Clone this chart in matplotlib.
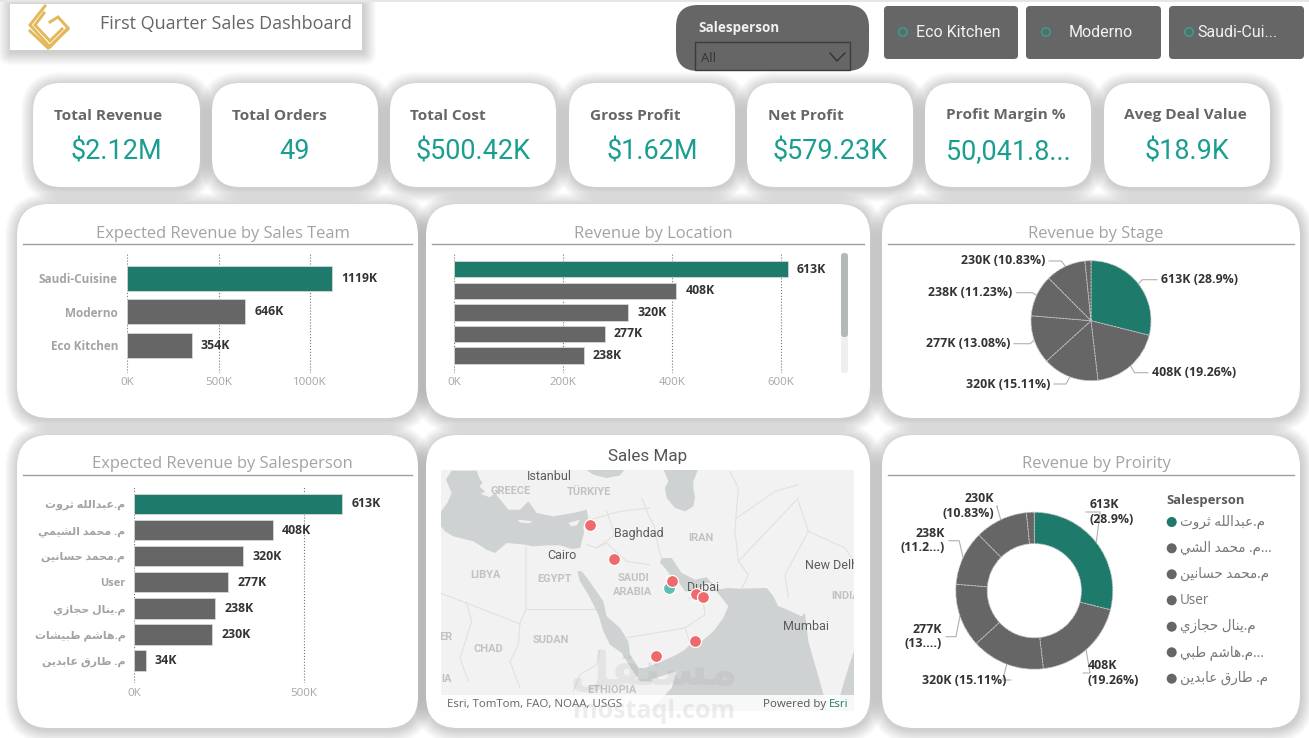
import math
import matplotlib
matplotlib.use("Agg")
import matplotlib.pyplot as plt
from matplotlib.patches import FancyBboxPatch, Polygon, Circle, Rectangle

W, H = 1309, 738
PT = 0.72  # one image pixel in points at dpi 100

UI = ["Open Sans", "DejaVu Sans"]
DIN = ["Roboto", "DejaVu Sans"]
TEAL = "#1e7b6c"
GRAY = "#666666"
VALUE = "#1a9e8f"

# data
kpi_titles = ["Total Revenue", "Total Orders", "Total Cost", "Gross Profit", "Net Profit", "Profit Margin %", "Aveg Deal Value"]
kpi_values = ["$2.12M", "49", "$500.42K", "$1.62M", "$579.23K", "50,041.8...", "$18.9K"]
team_names = ["Saudi-Cuisine", "Moderno", "Eco Kitchen"]
team_values = [1119, 646, 354]
location_values = [613, 408, 320, 277, 238]
sales_names = ["م.عبدالله ثروت", "م. محمد الشيمي", "م.محمد حسانين", "User", "م.ينال حجازي", "م.هاشم طبيشات", "م. طارق عابدين"]
sales_values = [613, 408, 320, 277, 238, 230, 34]
legend_names = ["م.عبدالله ثروت", "م. محمد الشي", "م.محمد حسانين", "User", "م.ينال حجازي", "م.هاشم طبي", "م. طارق عابدين"]
legend_cut = [False, True, False, False, False, True, False]
stage_labels = ["613K (28.9%)", "408K (19.26%)", "320K (15.11%)", "277K (13.08%)", "238K (11.23%)", "230K (10.83%)"]
priority_labels = ["613K\n(28.9%)", "408K\n(19.26%)", "320K (15.11%)", "277K\n(13....)", "238K\n(11.2...)", "230K\n(10.83%)"]
slicer_buttons = ["Eco Kitchen", "Moderno", "Saudi-Cui..."]
red_lons = [36.0, 40.0, 50.0, 54.1, 55.3, 53.9, 47.2]
red_lats = [34.4, 29.6, 26.3, 24.2, 23.8, 16.8, 14.3]
teal_lon = [49.5]
teal_lat = [25.1]


# matplotlib has no arabic shaping, so pick the presentation forms by hand
JOIN_BOTH = {"ب": 0xFE8F, "ت": 0xFE95, "ث": 0xFE99, "ج": 0xFE9D, "ح": 0xFEA1, "س": 0xFEB1, "ش": 0xFEB5,
             "ط": 0xFEC1, "ع": 0xFEC9, "ق": 0xFED5, "ل": 0xFEDD, "م": 0xFEE1, "ن": 0xFEE5, "ه": 0xFEE9, "ي": 0xFEF1}
JOIN_RIGHT = {"ا": 0xFE8D, "د": 0xFEA9, "ر": 0xFEAD, "ز": 0xFEAF, "و": 0xFEED}


def shape(text):
    out = []
    for i, c in enumerate(text):
        if c not in JOIN_BOTH and c not in JOIN_RIGHT:
            out.append(c)
            continue
        before = i > 0 and text[i - 1] in JOIN_BOTH
        after = i + 1 < len(text) and (text[i + 1] in JOIN_BOTH or text[i + 1] in JOIN_RIGHT)
        if c in JOIN_RIGHT:
            out.append(chr(JOIN_RIGHT[c] + (1 if before else 0)))
        else:
            form = {(False, False): 0, (True, False): 1, (False, True): 2, (True, True): 3}[(before, after)]
            out.append(chr(JOIN_BOTH[c] + form))
    if any(c in JOIN_BOTH or c in JOIN_RIGHT for c in text):
        return "".join(reversed(out))
    return text


fig = plt.figure(figsize=(W / 100, H / 100), dpi=100, facecolor="white")


def px_axes(x0, y0, x1, y1, zorder=2):
    ax = fig.add_axes([x0 / W, 1 - y1 / H, (x1 - x0) / W, (y1 - y0) / H], zorder=zorder)
    ax.patch.set_visible(False)
    return ax


base = px_axes(0, 0, W, H, zorder=0)
base.set_xlim(0, W)
base.set_ylim(H, 0)
base.axis("off")


def card(x0, y0, x1, y1, r=26, face="white", shadow=True):
    if shadow:
        # shadows go under every card face
        for i in range(12, 0, -1):
            s = i * 1.1
            base.add_patch(FancyBboxPatch((x0 - s + 1, y0 - s + 2), x1 - x0 + 2 * s, y1 - y0 + 2 * s,
                                          boxstyle="round,pad=0,rounding_size=%f" % (r + s),
                                          fc="black", ec="none", alpha=0.014, zorder=0.5))
    base.add_patch(FancyBboxPatch((x0, y0), x1 - x0, y1 - y0, boxstyle="round,pad=0,rounding_size=%f" % r,
                                  fc=face, ec="none", zorder=1))


def label(x, y, s, px, color=GRAY, weight="normal", ha="left", family=UI, ax=base, **kw):
    return ax.text(x, y, s, fontsize=px * PT, color=color, fontweight=weight, ha=ha, va="center",
                   family=family, **kw)


# header
base.add_patch(Rectangle((0, 0), W, 1.5, fc="#e6e6e6", ec="none"))
card(10, 4, 362, 50, r=0)
logo_lines = [[(45, 6), (30, 25), (50, 47), (68, 28), (58, 17), (50, 22)],
              [(44, 13), (35, 25), (50, 41), (62, 29)],
              [(30, 31), (48, 48), (68, 29)]]
for line in logo_lines:
    base.plot([p[0] for p in line], [p[1] for p in line], color="#e3b85a", lw=2.1, solid_joinstyle="miter")
label(100, 24, "First Quarter Sales Dashboard", 18, family=UI)

card(676, 5, 869, 71, r=22, face=GRAY, shadow=False)
label(698, 28, "Salesperson", 13.5, color="#f0f0f0", weight="bold")
base.add_patch(Rectangle((695, 42), 155, 28, fc="none", ec="#3c3c3c", lw=1, zorder=2))
label(701, 58, "All", 13, color="#333333")
base.plot([830, 837, 845], [53, 61, 53], color="#333333", lw=1)
button_x = [(884, 1018, 903, 916), (1026, 1161, 1046, 1069), (1169, 1304, 1189, 1197)]
for (x0, x1, cx, tx), name in zip(button_x, slicer_buttons):
    card(x0, 6, x1, 59, r=4, face=GRAY, shadow=False)
    base.add_patch(Circle((cx, 32), 4.2, fc="none", ec="#27a99a", lw=1, zorder=2))
    label(tx, 32.5, name, 16, color="#f2f2f2", family=DIN)

# kpi cards
kpi_x = [(33, 200), (212, 378), (390, 556), (569, 735), (747, 913), (925, 1091), (1104, 1270)]
for (x0, x1), t, v in zip(kpi_x, kpi_titles, kpi_values):
    card(x0, 83, x1, 187, r=28)
    label(x0 + 20.5, 115.5, t, 15.4, weight="bold")
    label((x0 + x1) / 2, 151.5, v, 27, color=VALUE, ha="center", family=DIN)

# panels
panels = [(17, 204, 418, 418), (426, 204, 870, 418), (882, 204, 1300, 418),
          (17, 435, 418, 728), (426, 435, 870, 728), (882, 435, 1300, 728)]
titles = ["Expected Revenue by Sales Team", "Revenue by Location", "Revenue by Stage",
          "Expected Revenue by Salesperson", "Sales Map", "Revenue by Proirity"]
for box in panels:
    card(*box, r=32)
for (x0, y0, x1, y1), t in zip(panels, titles):
    if t == "Sales Map":
        label(648, 456.5, t, 17, ha="center", color="#555555", family=DIN)
        continue
    label((x0 + x1) / 2 + 5, y0 + 29.5, t, 16.5, ha="center", color="#a3a3a3")
    base.plot([x0 + 6, x1 - 6], [y0 + 39.5, y0 + 39.5], color="#a0a0a0", lw=1)


def bars(box, values, names, xmax, ticks, tick_labels, ylim, height, name_px=11.8):
    ax = px_axes(*box)
    colors = [TEAL] + [GRAY] * (len(values) - 1)
    pos = list(range(len(values)))
    ax.barh(pos, values, height=height, color=colors, edgecolor="#d4d8d7", lw=0.6, zorder=3)
    ax.set_xlim(0, xmax)
    ax.set_ylim(*ylim)
    ax.set_xticks(ticks)
    ax.set_xticklabels(tick_labels, fontsize=11.5 * PT, color="#a6a6a6", family=UI)
    ax.grid(axis="x", color="#777777", linestyle=":", lw=0.8, zorder=0)
    ax.set_axisbelow(True)
    if names:
        ax.set_yticks(pos)
        ax.set_yticklabels(names, fontsize=name_px * PT, color="#a3a3a3", fontweight="bold", family=UI)
    else:
        ax.set_yticks([])
    ax.tick_params(length=0, axis="x", pad=3.2)
    ax.tick_params(length=0, axis="y", pad=6.5)
    for s in ax.spines.values():
        s.set_visible(False)
    for p, v in zip(pos, values):
        ax.annotate("%dK" % v, (v, p), xytext=(6.5, 0), textcoords="offset points", va="center",
                    fontsize=12.2 * PT, fontweight="bold", color="#333333", family=UI, zorder=5)
    return ax


bars((127, 253, 356, 373), team_values, team_names, 1250, [0, 500, 1000], ["0K", "500K", "1000K"], (2.83, -0.757), 0.745)
bars((454, 253, 835.5, 373), location_values, None, 700, [0, 200, 400, 600], ["0K", "200K", "400K", "600K"], (4.82, -0.758), 0.76)
bars((134.3, 485.7, 406, 683.3), sales_values, [shape(n) for n in sales_names], 800, [0, 500], ["0K", "500K"], (6.875, -0.70), 0.785, 11)

# scroll bar of the location chart
card(841, 253, 848, 373, r=3, face="#efefef", shadow=False)
card(841, 253, 848, 337, r=3, face="#b3b8b8", shadow=False)


def ring(cx, cy, radius, width, texts, anchors):
    ax = px_axes(cx - radius, cy - radius, cx + radius, cy + radius)
    colors = [TEAL] + [GRAY] * (len(sales_values) - 1)
    wedge = {"edgecolor": "#c4c4c4", "linewidth": 0.6, "linestyle": (0, (3, 1))}
    if width:
        wedge["width"] = width
    ax.pie(sales_values, colors=colors, startangle=90, counterclock=False, radius=1, wedgeprops=wedge)
    ax.set_xlim(-1, 1)
    ax.set_ylim(-1, 1)
    total = sum(sales_values)
    run = 0
    for v, t, (tx, ty, ha) in zip(sales_values, texts, anchors):
        a = (run + v / 2) / total * 2 * math.pi
        run += v
        rx, ry = cx + radius * math.sin(a), cy - radius * math.cos(a)
        side = 1 if ha == "left" else -1
        base.plot([rx, rx + side * 4, tx - side * 4], [ry, ty, ty], color="#b0b0b0", lw=0.8)
        label(tx, ty, t, 12.4, color="#333333", weight="bold", ha=ha, linespacing=1.15)


ring(1091, 320.7, 60, None, stage_labels,
     [(1161, 279.7, "left"), (1152, 372.7, "left"), (1050, 384, "right"),
      (1010, 343.7, "right"), (1012.7, 292.7, "right"), (1045, 261, "right")])
ring(1034.3, 590.7, 78.5, 0.4, priority_labels,
     [(1090, 512, "left"), (1087.3, 673, "left"), (1006.7, 680, "right"),
      (942, 636.7, "right"), (945, 540.7, "right"), (993.7, 506, "right")])

# donut legend
label(1166.7, 500.7, "Salesperson", 13, weight="bold", color="#5a5a5a")
legend_y = [522, 548.3, 574.3, 600.3, 626.7, 652.3, 678.7]
for i, (name, cut, y) in enumerate(zip(legend_names, legend_cut, legend_y)):
    base.add_patch(Circle((1171.7, y), 5, fc=TEAL if i == 0 else GRAY, ec="none", zorder=2))
    label(1180, y, shape(name) + ("..." if cut else ""), 13.5, color="#777777")

sea_left = [
    [(3, 130), (22, 105), (35, 75), (18, 35), (35, 8), (110, 8), (118, 30), (128, 45), (118, 55), (135, 70), (122, 78),
     (150, 88), (165, 75), (185, 100), (205, 125), (240, 125), (265, 100), (290, 135), (340, 145), (400, 135), (440, 125),
     (445, 150), (430, 175), (432, 195), (420, 240), (395, 243), (360, 232), (320, 232), (280, 235), (255, 230), (200, 225),
     (165, 255), (140, 245), (100, 220), (40, 205), (15, 190), (3, 175)],
    [(435, 3), (460, 20), (500, 30), (540, 22), (555, 3)],
    [(412, 310), (425, 310), (445, 335), (490, 400), (500, 445), (540, 480), (565, 520), (570, 560), (590, 590), (610, 625),
     (640, 640), (600, 640), (570, 595), (545, 555), (510, 530), (490, 490), (475, 440), (445, 380), (420, 340)],
]
sea_right = [
    [(55, 3), (160, 3), (145, 40), (145, 60), (150, 90), (145, 115), (120, 130), (90, 120), (65, 90), (60, 60), (70, 40)],
    [(50, 270), (80, 270), (110, 315), (150, 335), (185, 328), (200, 345), (215, 365), (250, 360), (285, 362), (365, 360),
     (385, 385), (400, 415), (415, 420), (470, 445), (480, 435), (490, 520), (530, 660), (550, 730), (15, 730), (80, 660),
     (95, 610), (0, 640), (-45, 600), (0, 600), (40, 585), (95, 560), (120, 545), (135, 530), (170, 520), (205, 490),
     (235, 450), (250, 415), (215, 370), (195, 345), (180, 345), (170, 355), (150, 370), (120, 370), (100, 340), (75, 320),
     (60, 300), (45, 285)],
    [(630, 540), (610, 600), (590, 665), (575, 730), (630, 730)],
]
islands_left = [[(385, 165), (420, 155), (410, 172), (395, 175)], [(232, 155), (280, 160), (265, 166), (240, 163)]]
borders_left = [
    [(258, 235), (258, 422), (240, 465), (235, 530), (210, 580), (240, 660)],
    [(258, 422), (465, 422)], [(80, 405), (240, 468)], [(0, 375), (80, 405), (95, 460), (60, 570), (85, 640)],
    [(450, 155), (540, 130), (630, 120)], [(440, 230), (470, 240), (500, 225), (560, 280), (630, 290)],
    [(480, 545), (470, 590), (420, 620), (400, 670)], [(500, 130), (525, 200), (470, 240)],
]
borders_right = [
    [(-10, 90), (10, 140), (30, 180), (40, 240), (50, 270)], [(275, 120), (270, 190), (280, 280), (310, 320), (290, 362)],
    [(275, 150), (390, 70), (460, 50)], [(460, 100), (490, 190), (420, 320), (430, 390)],
    [(-60, 510), (120, 480), (180, 440), (175, 400), (130, 390)], [(120, 480), (135, 525)],
    [(280, 280), (460, 90)], [(255, 10), (280, 60), (275, 120)], [(490, 190), (600, 240), (627, 280)],
]
map_labels = [("Istanbul", 549, 477, 1), ("GREECE", 511, 491, 0), ("TÜRKIYE", 589, 491.7, 0), ("Baghdad", 639, 533.7, 1),
              ("IRAN", 701, 537.7, 0), ("Cairo", 562, 556, 1), ("LIBYA", 485, 575, 0), ("EGYPT", 554, 579, 0),
              ("SAUDI", 633, 578, 0), ("ARABIA", 633, 592, 0), ("Dubai", 703, 587.7, 1), ("New Delhi", 833, 565.7, 1),
              ("INDIA", 846, 595.7, 0), ("CHAD", 488.7, 649, 0), ("SUDAN", 550.7, 640, 0), ("Mumbai", 805.7, 627, 1),
              ("ER", 446, 636.7, 0), ("IA", 447, 678.7, 0), ("ETHIOPIA", 612, 690, 0)]


def from_left(pts):
    return [(440 + x / 3, 468 + y / 3) for x, y in pts]


def from_right(pts):
    return [(645 + x / 3, 468 + y / 3) for x, y in pts]


def project(lon, lat):
    merc = math.degrees(math.log(math.tan(math.radians(45 + lat / 2))))
    return 562 + 5.86 * (lon - 31.2), 556 + 5.86 * (31.47 - merc)


mp = px_axes(441, 470, 854, 711)
mp.patch.set_visible(True)
mp.set_facecolor("#f2f2f2")
mp.set_xlim(441, 854)
mp.set_ylim(711, 470)
mp.set_xticks([])
mp.set_yticks([])
for s in mp.spines.values():
    s.set_visible(False)
for pts in [from_left(p) for p in sea_left] + [from_right(p) for p in sea_right]:
    mp.add_patch(Polygon(pts, fc="#cfd2d3", ec="none", zorder=1))
for pts in islands_left:
    mp.add_patch(Polygon(from_left(pts), fc="#f2f2f2", ec="none", zorder=1))
for pts in [from_left(p) for p in borders_left] + [from_right(p) for p in borders_right]:
    mp.plot([p[0] for p in pts], [p[1] for p in pts], color="#e1e1e1", lw=0.8, zorder=2)
for name, x, y, city in map_labels:
    if city:
        label(x, y, name, 12.5, color="#5c5c5c", ha="center", ax=mp, family=DIN, zorder=3, clip_on=True)
    else:
        label(x, y, name, 11, color="#c2c2c2", weight="bold", ha="center", ax=mp, family=DIN, zorder=3, clip_on=True)
teal_xy = [project(a, b) for a, b in zip(teal_lon, teal_lat)]
red_xy = [project(a, b) for a, b in zip(red_lons, red_lats)]
mp.scatter([p[0] for p in teal_xy], [p[1] for p in teal_xy], s=(12 * PT) ** 2, color="#5bbfb5", edgecolor="white", lw=0.9, zorder=4)
mp.scatter([p[0] for p in red_xy], [p[1] for p in red_xy], s=(12 * PT) ** 2, color="#ef6a6c", edgecolor="white", lw=0.9, zorder=5)
mp.add_patch(Rectangle((441, 695), 413, 16, fc="white", ec="none", alpha=0.85, zorder=6))
label(447, 705, "Esri, TomTom, FAO, NOAA, USGS", 11.5, color="#666666", ax=mp, zorder=7)
label(849, 705, "Esri", 11.5, color=TEAL, ha="right", ax=mp, zorder=7)
label(826, 705, "Powered by", 11.5, color="#555555", ha="right", ax=mp, zorder=7)

# site watermark across the bottom of the map panel
top = px_axes(0, 0, W, H, zorder=10)
top.set_xlim(0, W)
top.set_ylim(H, 0)
top.axis("off")
label(654, 672, shape("مستقل"), 46, color="#909090", weight="bold", ha="center", ax=top, alpha=0.14, family=["DejaVu Sans"])
label(654, 711, "mostaql.com", 25, color="#b0b0b0", weight="bold", ha="center", ax=top, alpha=0.22)

fig.savefig("out.png", dpi=100)
